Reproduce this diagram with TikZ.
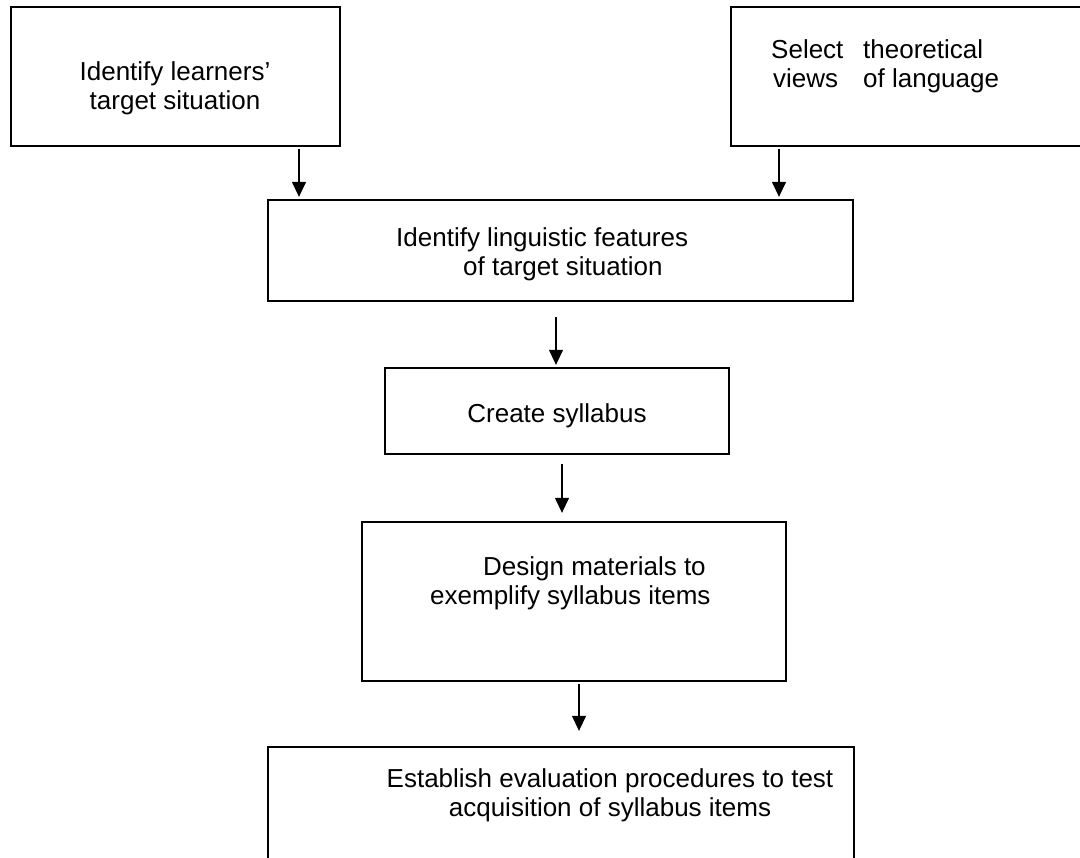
\documentclass[tikz,border=0pt]{standalone}
\usepackage{fontspec}
\setmainfont{Liberation Sans}
\usetikzlibrary{arrows.meta,calc}
\begin{document}
\begin{tikzpicture}[x=1pt,y=-1pt,
  box/.style={draw=black,line width=2.3pt,inner sep=0pt,minimum width=#1},
  txt/.style={inner sep=0pt,font=\fontsize{26}{29}\selectfont},
  arr/.style={draw=black,line width=1.3pt,-{Triangle[width=14pt,length=15pt]}}]
\useasboundingbox (0,0) rectangle (1080,858);
\clip (0,0) rectangle (1080,858);
\fill[white] (0,0) rectangle (1080,858);
% boxes
\node[box=329pt,minimum height=139pt] (b1) at (175.5,76.5) {};
\node[box=364pt,minimum height=139pt] (b2) at (913,76.5) {};
\node[box=585pt,minimum height=101pt] (b3) at (560.5,250.5) {};
\node[box=344pt,minimum height=86pt] (b4) at (557,411) {};
\node[box=424pt,minimum height=159pt] (b5) at (574,601.5) {};
\node[box=586pt,minimum height=128pt] (b6) at (561,811) {};
% texts
\node[txt,align=center] (t1) at (175,88.5) {Identify learners’\\target situation};
\node[txt,align=left,anchor=west] (t2) at (771,66.5) {\makebox[92pt][l]{Select}theoretical\\\hspace*{2pt}\makebox[90pt][l]{views}of language};
\node[txt,align=left,anchor=west] (t3) at (396,254.5) {Identify linguistic features\\\hspace*{67pt}of target situation};
\node[txt] (t4) at (557,416) {Create syllabus};
\node[txt,align=left,anchor=west] (t5) at (430,583) {\hspace*{53pt}Design materials to\\exemplify syllabus items};
\node[txt,align=center] (t6) at (610,795) {Establish evaluation procedures to test\\acquisition of syllabus items};
% arrow columns
\coordinate (x1) at (299,0);
\coordinate (x2) at (779,0);
\coordinate (x3) at (556,0);
\coordinate (x4) at (562,0);
\coordinate (x5) at (579,0);
% arrows
\draw[arr] ($(b1.south -| x1)+(0,2)$) -- ($(b3.north -| x1)+(0,-2)$);
\draw[arr] ($(b2.south -| x2)+(0,2)$) -- ($(b3.north -| x2)+(0,-2)$);
\draw[arr] ($(b3.south -| x3)+(0,15)$) -- ($(b4.north -| x3)+(0,-2)$);
\draw[arr] ($(b4.south -| x4)+(0,9)$) -- ($(b5.north -| x4)+(0,-8)$);
\draw[arr] ($(b5.south -| x5)+(0,2)$) -- ($(b6.north -| x5)+(0,-15)$);
\end{tikzpicture}
\end{document}
